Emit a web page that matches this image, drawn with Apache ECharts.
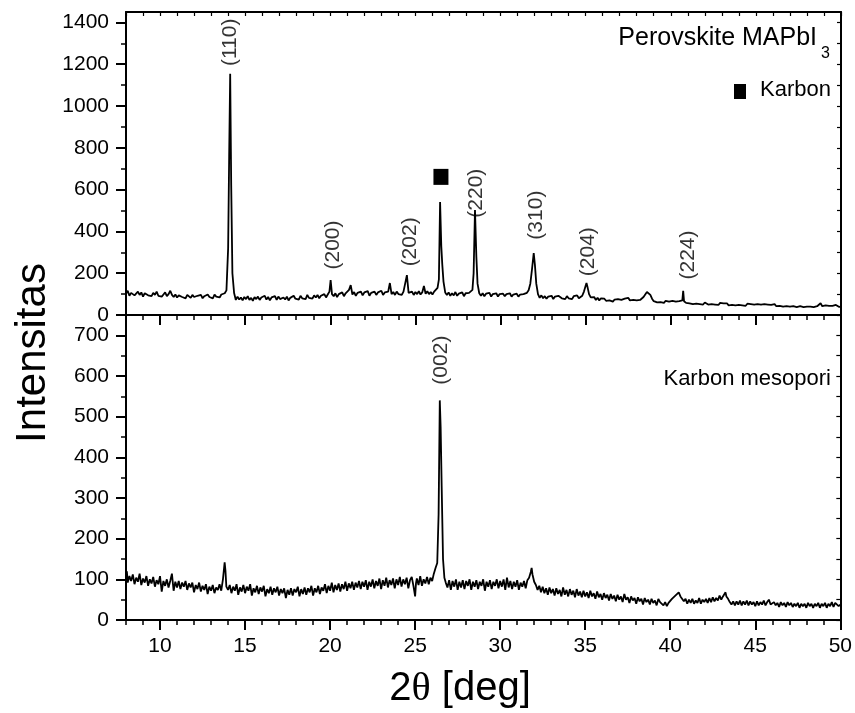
<!DOCTYPE html>
<html><head><meta charset="utf-8">
<script src="https://cdn.jsdelivr.net/npm/echarts@6.0.0/dist/echarts.min.js"></script>
<style>html,body{margin:0;padding:0;background:#fff}#c{width:855px;height:713px}</style>
</head><body><div id="c"></div><script>
// Perovskite MAPbI3 pattern [2theta, intensity]
const perovskiteData = [[8,102],[8.1,116],[8.2,92],[8.3,106],[8.4,114],[8.5,94],[8.6,100],[8.7,112],[8.8,96],[8.9,108],[9,88],[9.1,104],[9.2,112],[9.3,94],[9.4,102],[9.5,90],[9.6,106],[9.7,96],[9.8,112],[9.9,92],[10,100],[10.1,88],[10.2,98],[10.3,108],[10.4,90],[10.5,100],[10.6,116],[10.7,96],[10.8,86],[10.9,98],[11,84],[11.1,94],[11.2,100],[11.3,86],[11.4,92],[11.5,80],[11.6,96],[11.7,88],[11.8,82],[11.9,96],[12,86],[12.1,78],[12.2,92],[12.3,84],[12.4,96],[12.5,80],[12.6,90],[12.7,84],[12.8,98],[12.9,86],[13,92],[13.1,80],[13.2,98],[13.3,88],[13.4,94],[13.5,84],[13.6,98],[13.7,92],[13.8,104],[13.9,118],[14,320],[14.06,760],[14.12,1155],[14.18,620],[14.25,200],[14.35,105],[14.45,72],[14.55,88],[14.65,74],[14.75,84],[14.85,70],[14.95,86],[15.05,76],[15.15,90],[15.25,72],[15.35,82],[15.45,68],[15.55,86],[15.65,76],[15.75,88],[15.85,72],[15.95,84],[16.05,78],[16.15,92],[16.25,74],[16.35,86],[16.45,70],[16.55,84],[16.65,78],[16.75,90],[16.85,72],[16.95,88],[17.05,76],[17.15,68],[17.25,84],[17.35,74],[17.45,88],[17.55,70],[17.65,82],[17.75,76],[17.85,92],[17.95,78],[18.05,86],[18.15,74],[18.25,92],[18.35,80],[18.45,88],[18.55,76],[18.65,96],[18.75,82],[18.85,90],[18.95,78],[19.05,94],[19.15,84],[19.25,96],[19.35,80],[19.45,92],[19.55,86],[19.65,100],[19.75,84],[19.85,98],[19.95,112],[20.02,167],[20.1,100],[20.2,90],[20.3,104],[20.4,86],[20.5,100],[20.6,94],[20.7,108],[20.8,90],[20.9,104],[21,96],[21.1,120],[21.2,143],[21.3,98],[21.4,110],[21.5,92],[21.6,106],[21.7,98],[21.8,112],[21.9,94],[22,108],[22.1,100],[22.2,114],[22.3,92],[22.4,106],[22.5,98],[22.6,112],[22.7,96],[22.8,108],[22.9,100],[23,116],[23.1,96],[23.2,108],[23.3,100],[23.4,112],[23.5,153],[23.6,100],[23.7,110],[23.8,96],[23.9,112],[24,100],[24.1,108],[24.2,96],[24.3,112],[24.4,118],[24.5,191],[24.6,106],[24.7,98],[24.8,112],[24.9,96],[25,110],[25.1,100],[25.2,114],[25.3,98],[25.4,108],[25.5,139],[25.6,102],[25.7,114],[25.8,100],[25.9,110],[26,98],[26.1,112],[26.2,118],[26.3,130],[26.38,170],[26.45,541],[26.52,330],[26.58,240],[26.65,160],[26.75,108],[26.85,96],[26.95,108],[27.05,92],[27.15,104],[27.25,94],[27.35,110],[27.45,92],[27.55,102],[27.65,96],[27.75,108],[27.85,90],[27.95,104],[28.05,96],[28.15,106],[28.25,100],[28.35,120],[28.42,200],[28.5,502],[28.58,280],[28.65,150],[28.75,104],[28.85,92],[28.95,104],[29.05,90],[29.15,102],[29.25,94],[29.35,106],[29.45,88],[29.55,100],[29.65,92],[29.75,104],[29.85,88],[29.95,100],[30.05,92],[30.15,102],[30.25,90],[30.35,100],[30.45,94],[30.55,104],[30.65,88],[30.75,98],[30.85,90],[30.95,102],[31.05,88],[31.15,98],[31.25,92],[31.35,100],[31.45,96],[31.55,106],[31.65,118],[31.75,150],[31.85,220],[31.95,296],[32.02,240],[32.1,150],[32.2,100],[32.3,82],[32.4,94],[32.5,80],[32.6,90],[32.7,78],[32.8,88],[32.9,82],[33,92],[33.1,76],[33.2,88],[33.3,84],[33.4,92],[33.5,98],[33.6,80],[33.7,88],[33.8,76],[33.9,90],[34,80],[34.1,86],[34.2,76],[34.3,90],[34.4,82],[34.5,94],[34.6,80],[34.7,86],[34.8,92],[34.9,112],[35,140],[35.05,153],[35.12,130],[35.2,100],[35.3,84],[35.4,76],[35.5,86],[35.6,72],[35.7,82],[35.8,70],[35.9,80],[36,72],[36.1,78],[36.2,68],[36.3,76],[36.4,70],[36.5,78],[36.6,64],[36.7,74],[36.8,66],[36.9,76],[37,68],[37.1,72],[37.2,66],[37.3,78],[37.4,74],[37.5,82],[37.6,70],[37.7,64],[37.8,72],[37.9,66],[38,70],[38.1,62],[38.2,72],[38.3,76],[38.4,86],[38.5,98],[38.6,110],[38.7,104],[38.8,96],[38.9,78],[39,66],[39.1,70],[39.2,60],[39.3,68],[39.4,62],[39.5,66],[39.6,58],[39.7,68],[39.8,60],[39.9,64],[40,58],[40.1,68],[40.2,60],[40.3,64],[40.4,56],[40.5,66],[40.6,60],[40.68,70],[40.73,116],[40.78,66],[40.9,58],[41,64],[41.1,56],[41.2,62],[41.3,52],[41.4,60],[41.5,54],[41.6,62],[41.7,52],[41.8,58],[41.9,50],[42,60],[42.1,54],[42.2,50],[42.3,58],[42.4,52],[42.5,60],[42.6,50],[42.7,56],[42.8,48],[42.9,58],[43,50],[43.1,56],[43.2,48],[43.3,56],[43.4,46],[43.5,54],[43.6,48],[43.7,56],[43.8,46],[43.9,52],[44,48],[44.1,56],[44.2,46],[44.3,52],[44.4,44],[44.5,54],[44.6,46],[44.7,52],[44.8,44],[44.9,50],[45,46],[45.1,52],[45.2,44],[45.3,50],[45.4,42],[45.5,52],[45.6,46],[45.7,50],[45.8,42],[45.9,48],[46,44],[46.1,52],[46.2,42],[46.3,48],[46.4,44],[46.5,50],[46.6,40],[46.7,48],[46.8,42],[46.9,50],[47,40],[47.1,46],[47.2,42],[47.3,48],[47.4,38],[47.5,46],[47.6,42],[47.7,48],[47.8,38],[47.9,46],[48,40],[48.1,48],[48.2,40],[48.3,46],[48.4,38],[48.5,46],[48.6,42],[48.7,50],[48.8,56],[48.9,42],[49,38],[49.1,46],[49.2,40],[49.3,44],[49.4,36],[49.5,44],[49.6,40],[49.7,48],[49.8,54],[49.9,38],[50,42]];
// Mesoporous carbon pattern [2theta, intensity]
const karbonData = [[8,105],[8.05,120],[8.1,92],[8.2,108],[8.3,96],[8.4,112],[8.5,88],[8.6,104],[8.7,94],[8.8,114],[8.9,86],[9,102],[9.1,92],[9.2,108],[9.3,84],[9.4,100],[9.5,90],[9.6,106],[9.7,82],[9.8,98],[9.9,88],[10,108],[10.1,70],[10.2,96],[10.3,84],[10.4,100],[10.5,80],[10.6,96],[10.7,114],[10.8,72],[10.9,94],[11,80],[11.1,96],[11.2,76],[11.3,92],[11.4,82],[11.5,96],[11.6,74],[11.7,90],[11.8,80],[11.9,92],[12,68],[12.1,86],[12.2,76],[12.3,92],[12.4,70],[12.5,84],[12.6,74],[12.7,88],[12.8,64],[12.9,82],[13,72],[13.1,86],[13.2,66],[13.3,80],[13.4,74],[13.5,88],[13.6,72],[13.7,100],[13.8,142],[13.85,120],[13.9,82],[14,74],[14.1,86],[14.2,66],[14.3,82],[14.4,72],[14.5,88],[14.6,62],[14.7,80],[14.8,70],[14.9,86],[15,66],[15.1,82],[15.2,72],[15.3,88],[15.4,60],[15.5,78],[15.6,68],[15.7,84],[15.8,64],[15.9,80],[16,70],[16.1,84],[16.2,58],[16.3,76],[16.4,66],[16.5,82],[16.6,62],[16.7,78],[16.8,68],[16.9,82],[17,60],[17.1,76],[17.2,66],[17.3,78],[17.4,54],[17.5,74],[17.6,62],[17.7,78],[17.8,60],[17.9,76],[18,68],[18.1,82],[18.2,58],[18.3,76],[18.4,64],[18.5,80],[18.6,62],[18.7,78],[18.8,68],[18.9,84],[19,60],[19.1,78],[19.2,68],[19.3,84],[19.4,64],[19.5,80],[19.6,72],[19.7,88],[19.8,66],[19.9,84],[20,72],[20.1,92],[20.2,68],[20.3,86],[20.4,74],[20.5,90],[20.6,70],[20.7,88],[20.8,76],[20.9,94],[21,72],[21.1,90],[21.2,78],[21.3,94],[21.4,74],[21.5,92],[21.6,80],[21.7,96],[21.8,76],[21.9,94],[22,82],[22.1,98],[22.2,74],[22.3,94],[22.4,82],[22.5,100],[22.6,78],[22.7,96],[22.8,84],[22.9,102],[23,76],[23.1,98],[23.2,84],[23.3,104],[23.4,80],[23.5,98],[23.6,86],[23.7,102],[23.8,78],[23.9,100],[24,86],[24.1,106],[24.2,82],[24.3,100],[24.4,88],[24.5,104],[24.6,78],[24.7,98],[24.8,106],[24.9,84],[25,58],[25.05,90],[25.1,102],[25.2,86],[25.3,108],[25.4,84],[25.5,100],[25.6,90],[25.7,106],[25.8,88],[25.9,104],[26,96],[26.1,114],[26.2,128],[26.3,140],[26.38,260],[26.45,540],[26.5,475],[26.56,330],[26.64,150],[26.72,104],[26.8,92],[26.9,80],[27,98],[27.1,74],[27.2,96],[27.3,82],[27.4,100],[27.5,74],[27.6,94],[27.7,80],[27.8,98],[27.9,76],[28,96],[28.1,84],[28.2,100],[28.3,74],[28.4,94],[28.5,82],[28.6,98],[28.7,76],[28.8,94],[28.9,84],[29,100],[29.1,72],[29.2,94],[29.3,82],[29.4,98],[29.5,76],[29.6,94],[29.7,84],[29.8,100],[29.9,78],[30,96],[30.1,82],[30.2,100],[30.3,74],[30.4,104],[30.5,80],[30.6,96],[30.7,76],[30.8,94],[30.9,82],[31,98],[31.1,74],[31.2,92],[31.3,82],[31.4,96],[31.5,78],[31.6,98],[31.7,104],[31.8,118],[31.85,128],[31.9,112],[32,94],[32.1,86],[32.2,74],[32.3,84],[32.4,68],[32.5,82],[32.6,66],[32.7,78],[32.8,62],[32.9,80],[33,66],[33.1,76],[33.2,60],[33.3,78],[33.4,64],[33.5,74],[33.6,58],[33.7,80],[33.8,62],[33.9,74],[34,58],[34.1,76],[34.2,62],[34.3,72],[34.4,56],[34.5,76],[34.6,60],[34.7,70],[34.8,56],[34.9,72],[35,58],[35.1,68],[35.2,54],[35.3,72],[35.4,58],[35.5,66],[35.6,52],[35.7,70],[35.8,56],[35.9,64],[36,50],[36.1,66],[36.2,54],[36.3,62],[36.4,48],[36.5,64],[36.6,52],[36.7,60],[36.8,46],[36.9,62],[37,50],[37.1,58],[37.2,44],[37.3,64],[37.4,50],[37.5,56],[37.6,42],[37.7,58],[37.8,48],[37.9,54],[38,40],[38.1,56],[38.2,46],[38.3,52],[38.4,38],[38.5,54],[38.6,44],[38.7,50],[38.8,38],[38.9,52],[39,42],[39.1,48],[39.2,36],[39.3,52],[39.4,44],[39.5,46],[39.6,36],[39.7,44],[39.8,34],[39.9,42],[40,46],[40.1,52],[40.2,50],[40.3,60],[40.4,56],[40.5,68],[40.6,58],[40.7,56],[40.8,46],[40.9,52],[41,40],[41.1,50],[41.2,42],[41.3,52],[41.4,40],[41.5,48],[41.6,42],[41.7,54],[41.8,40],[41.9,50],[42,44],[42.1,52],[42.2,42],[42.3,54],[42.4,44],[42.5,56],[42.6,46],[42.7,54],[42.8,48],[42.9,60],[43,50],[43.1,58],[43.2,62],[43.25,68],[43.3,58],[43.4,52],[43.5,44],[43.6,38],[43.7,46],[43.8,36],[43.9,46],[44,38],[44.1,48],[44.2,36],[44.3,46],[44.4,38],[44.5,48],[44.6,36],[44.7,46],[44.8,38],[44.9,44],[45,34],[45.1,46],[45.2,36],[45.3,44],[45.4,38],[45.5,48],[45.6,36],[45.7,44],[45.8,50],[45.9,38],[46,34],[46.1,44],[46.2,36],[46.3,42],[46.4,32],[46.5,44],[46.6,36],[46.7,42],[46.8,32],[46.9,44],[47,36],[47.1,42],[47.2,32],[47.3,40],[47.4,34],[47.5,42],[47.6,30],[47.7,40],[47.8,34],[47.9,40],[48,30],[48.1,42],[48.2,34],[48.3,40],[48.4,30],[48.5,40],[48.6,34],[48.7,42],[48.8,30],[48.9,40],[49,34],[49.1,42],[49.2,30],[49.3,40],[49.4,34],[49.5,44],[49.6,32],[49.7,42],[49.8,46],[49.9,34],[50,38]];

const xMajorTicks = [10,15,20,25,30,35,40,45,50];
const topYTicks = [0,200,400,600,800,1000,1200,1400];
const topYMinorTicks = [100,300,500,700,900,1100,1300];
const botYTicks = [0,100,200,300,400,500,600,700];
const botYMinorTicks = [50,150,250,350,450,550,650];

// Miller-index annotations [2theta, intensity of label centre]
const topPeakLabels = ['(110)','(200)','(202)','(220)','(310)','(204)','(224)'];
const topPeakLabelPos = [[14.1,1305],[20.15,335],[24.7,350],[28.55,583],[32.1,478],[35.15,303],[41.0,287]];
const carbonMarkPos = [[26.5,661]];
const botPeakLabels = ['(002)'];
const botPeakLabelPos = [[26.55,639]];

const FONT = 'Liberation Sans';
const AX = {lineStyle:{color:'#000',width:2}};
function xAx(grid, opt){
  return Object.assign({type:'value',gridIndex:grid,min:8,max:50,splitLine:{show:false},
    axisLine:{show:false,onZero:false},axisTick:{show:false},axisLabel:{show:false}}, opt);
}
function yAx(grid, max, opt){
  return Object.assign({type:'value',gridIndex:grid,min:0,max:max,splitLine:{show:false},
    axisLine:{show:false,onZero:false},axisTick:{show:false},axisLabel:{show:false}}, opt);
}
const labelStyle = {fontFamily:FONT,fontSize:21,color:'#000',formatter:v=>String(v)};

const chart = echarts.init(document.getElementById('c'));
chart.setOption({
  animation:false,
  backgroundColor:'#fff',
  grid:[
    {left:126,top:12,width:715,height:303},
    {left:126,top:315,width:715,height:305}
  ],
  xAxis:[
    xAx(0,{position:'bottom',axisLine:Object.assign({show:true,onZero:false},AX),
      axisTick:{show:true,length:10,inside:false,customValues:xMajorTicks,lineStyle:{color:'#000',width:2}}}),
    xAx(0,{position:'bottom',interval:1,axisTick:{show:true,length:5,inside:false,interval:0,lineStyle:{color:'#000',width:1.5}}}),
    xAx(0,{position:'top',interval:1,axisLine:Object.assign({show:true,onZero:false},AX),
      axisTick:{show:true,length:4,inside:true,interval:0,lineStyle:{color:'#000',width:1.2}}}),
    xAx(1,{position:'bottom',axisLine:Object.assign({show:true,onZero:false},AX),
      axisTick:{show:true,length:10,inside:false,customValues:xMajorTicks,lineStyle:{color:'#000',width:2}},
      axisLabel:Object.assign({show:true,margin:16,customValues:xMajorTicks},labelStyle)}),
    xAx(1,{position:'bottom',interval:1,axisTick:{show:true,length:5,inside:false,interval:0,lineStyle:{color:'#000',width:1.5}}})
  ],
  yAxis:[
    yAx(0,1450,{position:'left',axisLine:Object.assign({show:true,onZero:false},AX),
      axisTick:{show:true,length:10,inside:false,customValues:topYTicks,lineStyle:{color:'#000',width:2}},
      axisLabel:Object.assign({show:true,margin:17,customValues:topYTicks},labelStyle)}),
    yAx(0,1450,{position:'left',axisTick:{show:true,length:5,inside:false,customValues:topYMinorTicks,lineStyle:{color:'#000',width:1.5}}}),
    yAx(0,1450,{position:'right',axisLine:Object.assign({show:true,onZero:false},AX),
      axisTick:{show:true,length:4,inside:true,customValues:topYTicks.concat(topYMinorTicks),lineStyle:{color:'#000',width:1.2}}}),
    yAx(1,750,{position:'left',axisLine:Object.assign({show:true,onZero:false},AX),
      axisTick:{show:true,length:10,inside:false,customValues:botYTicks,lineStyle:{color:'#000',width:2}},
      axisLabel:Object.assign({show:true,margin:17,customValues:botYTicks},labelStyle)}),
    yAx(1,750,{position:'left',axisTick:{show:true,length:5,inside:false,customValues:botYMinorTicks,lineStyle:{color:'#000',width:1.5}}}),
    yAx(1,750,{position:'right',axisLine:Object.assign({show:true,onZero:false},AX),
      axisTick:{show:true,length:4,inside:true,customValues:botYTicks.concat(botYMinorTicks),lineStyle:{color:'#000',width:1.2}}})
  ],
  series:[
    {type:'line',xAxisIndex:0,yAxisIndex:0,data:perovskiteData,showSymbol:false,
      lineStyle:{color:'#000',width:1.8},z:5},
    {type:'line',xAxisIndex:3,yAxisIndex:3,data:karbonData,showSymbol:false,
      lineStyle:{color:'#000',width:1.8},z:5},
    {type:'scatter',xAxisIndex:0,yAxisIndex:0,symbolSize:1,itemStyle:{color:'rgba(0,0,0,0)'},
      data:topPeakLabelPos.map((p,i)=>({value:p,name:topPeakLabels[i]})),
      label:{show:true,position:'inside',rotate:90,formatter:'{b}',fontFamily:FONT,fontSize:21,color:'#000',align:'center',verticalAlign:'middle'}},
    {type:'scatter',xAxisIndex:0,yAxisIndex:0,symbol:'rect',symbolSize:[15,16],itemStyle:{color:'#000',opacity:1},data:carbonMarkPos},
    {type:'scatter',xAxisIndex:3,yAxisIndex:3,symbolSize:1,itemStyle:{color:'rgba(0,0,0,0)'},
      data:botPeakLabelPos.map((p,i)=>({value:p,name:botPeakLabels[i]})),
      label:{show:true,position:'inside',rotate:90,formatter:'{b}',fontFamily:FONT,fontSize:21,color:'#000',align:'center',verticalAlign:'middle'}}
  ],
  graphic:[
    {type:'text',x:817,y:38,style:{text:'Perovskite MAPbI',fontFamily:FONT,fontSize:25,fill:'#000',align:'right',verticalAlign:'middle'}},
    {type:'text',x:821,y:54,style:{text:'3',fontFamily:FONT,fontSize:16,fill:'#000',align:'left',verticalAlign:'middle'}},
    {type:'rect',shape:{x:734,y:84,width:12,height:15},style:{fill:'#000'}},
    {type:'text',x:831,y:90,style:{text:'Karbon',fontFamily:FONT,fontSize:22,fill:'#000',align:'right',verticalAlign:'middle'}},
    {type:'text',x:831,y:379,style:{text:'Karbon mesopori',fontFamily:FONT,fontSize:22,fill:'#000',align:'right',verticalAlign:'middle'}},
    {type:'text',x:33,y:353,rotation:Math.PI/2,style:{text:'Intensitas',fontFamily:FONT,fontSize:42,fill:'#000',align:'center',verticalAlign:'middle'}},
    {type:'text',x:460,y:689,style:{text:'2{t|θ} [deg]',fontFamily:FONT,fontSize:40,fill:'#000',align:'center',verticalAlign:'middle',
      rich:{t:{fontFamily:'Liberation Serif',fontSize:40,fill:'#000'}}}}
  ]
});
</script></body></html>
